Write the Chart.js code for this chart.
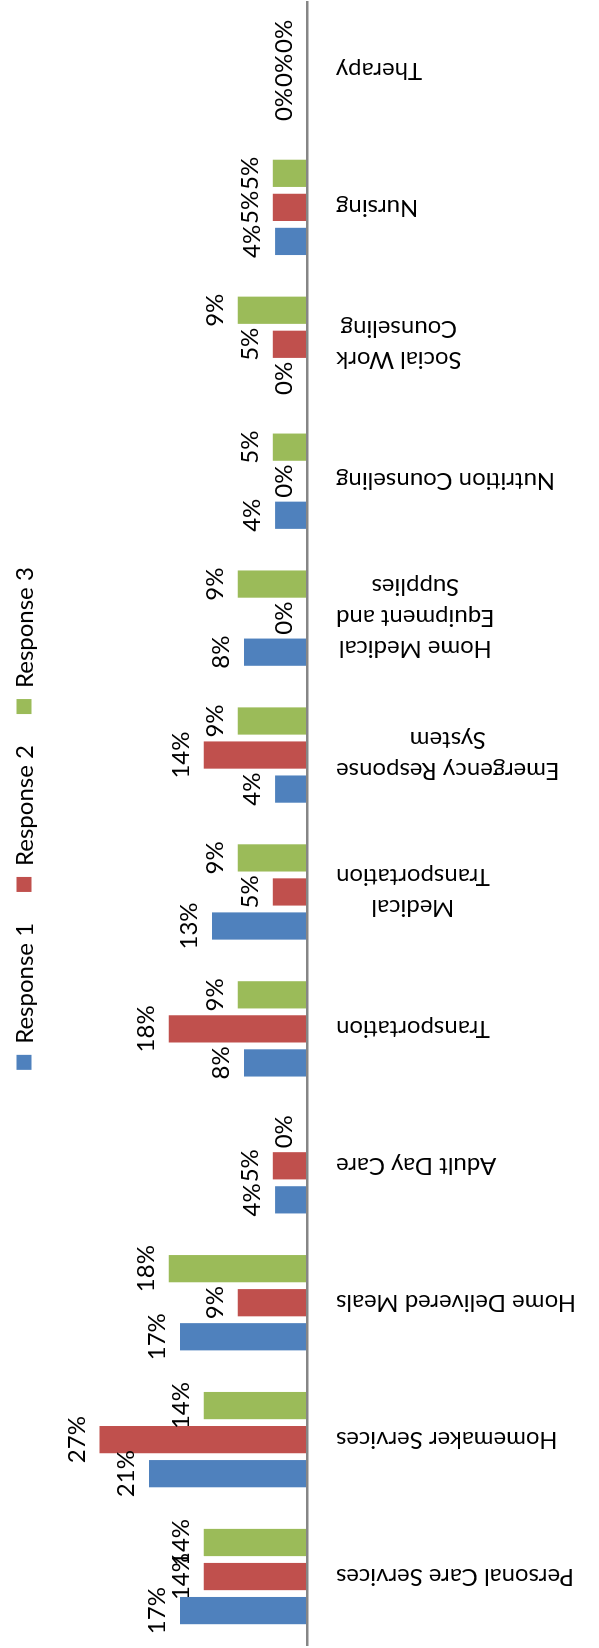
<!DOCTYPE html>
<html>
<head>
<meta charset="utf-8">
<title>Services Responses</title>
<script src="https://cdn.jsdelivr.net/npm/chart.js@4.4.0/dist/chart.umd.min.js"></script>
<style>
    html, body { margin: 0; padding: 0; background: #fff; overflow: hidden; }
    #wrap { position: relative; width: 599px; height: 1648px; }
    /* chart is drawn as a column chart and turned a quarter left */
    #canvas { position: absolute; left: 0; top: 0; transform-origin: 0 0; transform: translate(0, 1648px) rotate(-90deg); }
</style>
</head>
<body>
<div id="wrap">
    <canvas id="canvas" width="1648" height="599"></canvas>
</div>
<script>
var categories = [
    "Personal Care Services",
    "Homemaker Services",
    "Home Delivered Meals",
    "Adult Day Care",
    "Transportation",
    ["Medical", "Transportation"],
    ["Emergency Response", "System"],
    ["Home Medical", "Equipment and", "Supplies"],
    "Nutrition Counseling",
    ["Social Work", "Counseling"],
    "Nursing",
    "Therapy"
];
var seriesNames = ["Response 1", "Response 2", "Response 3"];
var response1 = [16.7, 20.8, 16.7, 4.2, 8.3, 12.5, 4.2, 8.3, 4.2, 0, 4.2, 0];
var response2 = [13.6, 27.3, 9.1, 4.5, 18.2, 4.5, 13.6, 0, 0, 4.5, 4.5, 0];
var response3 = [13.6, 13.6, 18.2, 0, 9.1, 9.1, 9.1, 9.1, 4.5, 9.1, 4.5, 0];
var colors = ["#4F81BD", "#C0504D", "#9BBB59"];

var FONT = "24px Lato";

// category names under the axis, text turned so lines stay centred on each other
var categoryLabels = {
    id: "categoryLabels",
    afterDraw: function (chart) {
        var ctx = chart.ctx;
        var xs = chart.scales.x;
        var lineH = 31;
        ctx.save();
        ctx.font = FONT;
        ctx.fillStyle = "#000";
        ctx.textAlign = "center";
        ctx.textBaseline = "middle";
        for (var i = 0; i < chart.data.labels.length; i++) {
            var lines = [].concat(chart.data.labels[i]);
            var w = 0;
            lines.forEach(function (l) { w = Math.max(w, ctx.measureText(l).width); });
            ctx.save();
            ctx.translate(xs.getPixelForTick(i), chart.chartArea.bottom + 29);
            ctx.rotate(-Math.PI / 2);
            for (var j = 0; j < lines.length; j++) {
                ctx.fillText(lines[j], -w / 2, (j - (lines.length - 1) / 2) * lineH);
            }
            ctx.restore();
        }
        ctx.restore();
    }
};

// percentage above every bar
var valueLabels = {
    id: "valueLabels",
    afterDatasetsDraw: function (chart) {
        var ctx = chart.ctx;
        ctx.save();
        ctx.font = FONT;
        ctx.fillStyle = "#000";
        ctx.textAlign = "center";
        ctx.textBaseline = "alphabetic";
        chart.data.datasets.forEach(function (ds, di) {
            var meta = chart.getDatasetMeta(di);
            meta.data.forEach(function (bar, i) {
                ctx.fillText(Math.round(ds.data[i]) + "%", bar.x, bar.y - 15);
            });
        });
        ctx.restore();
    }
};

// legend row along the top edge
var legendRow = {
    id: "legendRow",
    afterDraw: function (chart) {
        var ctx = chart.ctx;
        var box = 15, gap = 11, spacing = 31;
        ctx.save();
        ctx.font = FONT;
        var total = 0;
        chart.data.datasets.forEach(function (ds, i) {
            total += box + gap + ctx.measureText(ds.label).width;
            if (i > 0) total += spacing;
        });
        var x = (chart.chartArea.left + chart.chartArea.right) / 2 + 5 - total / 2;
        var cy = 24;
        ctx.textAlign = "left";
        ctx.textBaseline = "middle";
        chart.data.datasets.forEach(function (ds) {
            ctx.fillStyle = ds.backgroundColor;
            ctx.fillRect(x, cy - box / 2, box, box);
            x += box + gap;
            ctx.fillStyle = "#000";
            ctx.fillText(ds.label, x, cy + 1.5);
            x += ctx.measureText(ds.label).width + spacing;
        });
        ctx.restore();
    }
};

var values = [response1, response2, response3];
var datasets = [];
for (var k = 0; k < values.length; k++) {
    datasets.push({
        label: seriesNames[k],
        data: values[k],
        backgroundColor: colors[k],
        borderWidth: 0,
        categoryPercentage: 0.746,
        barPercentage: 0.8
    });
}

new Chart(document.getElementById("canvas"), {
    type: "bar",
    data: {
        labels: categories,
        datasets: datasets
    },
    options: {
        responsive: false,
        animation: false,
        layout: {
            padding: { top: 79, bottom: 292, left: 3, right: 2 }
        },
        plugins: {
            legend: { display: false },
            tooltip: { enabled: false }
        },
        scales: {
            x: {
                grid: { display: false, drawTicks: false },
                ticks: { display: false },
                border: { display: true, color: "#868686", width: 2.5, z: 1 }
            },
            y: {
                display: false,
                min: 0,
                max: 30
            }
        }
    },
    plugins: [categoryLabels, valueLabels, legendRow]
});
</script>
</body>
</html>
